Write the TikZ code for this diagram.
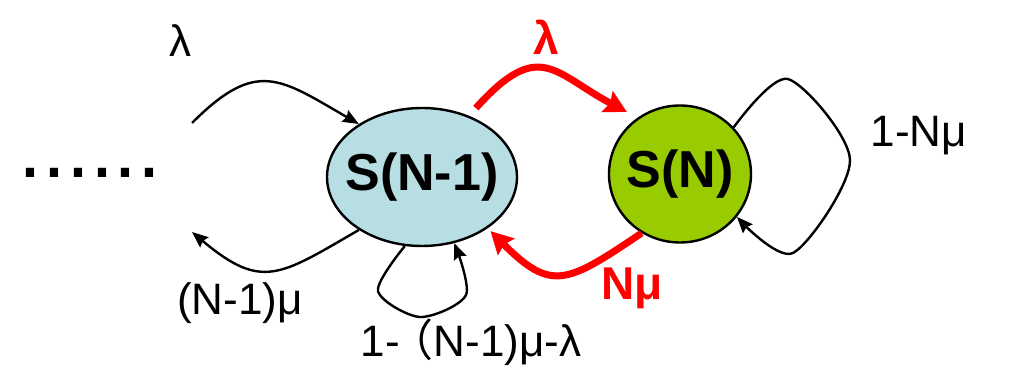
\documentclass[tikz,border=0pt]{standalone}
\usepackage{fontspec}
\setmainfont{Liberation Sans}
\newfontfamily\cjkfont{Noto Sans CJK SC}
\usetikzlibrary{arrows.meta, calc, shapes.geometric}

\definecolor{stblue}{HTML}{B7DEE3}
\definecolor{stgreen}{HTML}{99CC00}

\tikzset{
  stnode/.style={ellipse, draw, line width=1.2pt, inner xsep=-6pt, inner ysep=0pt,
    font=\fontsize{26}{30}\selectfont\bfseries},
  blackarr/.style={line width=1.2pt, -{Stealth[length=8pt,width=6.5pt,inset=1pt]}},
  redarr/.style={red, line width=3.5pt, -{Stealth[length=11pt,width=11.5pt,inset=1.5pt]}},
  lbl/.style={anchor=base, font=\fontsize{22}{26}\selectfont},
  redlbl/.style={anchor=base, red, font=\fontsize{23}{27}\selectfont\bfseries}
}

\begin{document}
\begin{tikzpicture}[x=0.5pt, y=0.5pt]
\useasboundingbox (0,0) rectangle (1019,375);

\node[stnode, fill=stblue, minimum width=95pt, minimum height=69pt] (s1) at (422,198) {S(N-1)};
\node[stnode, fill=stgreen, minimum width=71pt, minimum height=68.5pt] (sn) at (680,201) {S(N)};
\node[anchor=base, font=\fontsize{43}{48}\selectfont] (dots) at (90,197) {......};

\coordinate (lamin) at (192,252);
\coordinate (muout) at (192,143);

% black transitions of S(N-1)
\draw[blackarr] (lamin) to[out=45, in=150, looseness=1.4] (s1.140);
\draw[blackarr] (s1.220) to[out=210, in=-40, looseness=1.4] (muout);
\draw[blackarr] plot[smooth] coordinates {(s1.256) (378,84) (420,58) (466,80) (s1.296)};

% self loop of S(N)
\draw[blackarr] plot[smooth] coordinates {(sn.41) (788,296) (850,215) (793,122) (sn.-37)};

% red transitions between S(N-1) and S(N)
\draw[redarr, shorten >=6pt] ($(s1.center)!1.13!(s1.52)$) to[out=48, in=152, looseness=1.5] (sn.127);
\draw[redarr, shorten >=2pt] (sn.237) to[out=214, in=-45, looseness=1.5] (s1.-38);

\node[lbl] (lam) at (180,318) {λ};
\node[lbl] (mu1) at (240,60) {(N-1)μ};
\node[lbl] (stay1) at (471,18) {1-\hspace{-5pt}{\cjkfont （}N-1)μ-λ};
\node[lbl] (stayn) at (919,228) {1-Nμ};
\node[redlbl] (redlam) at (546,320) {λ};
\node[redlbl] (rednmu) at (632,75) {Nμ};
\end{tikzpicture}
\end{document}
